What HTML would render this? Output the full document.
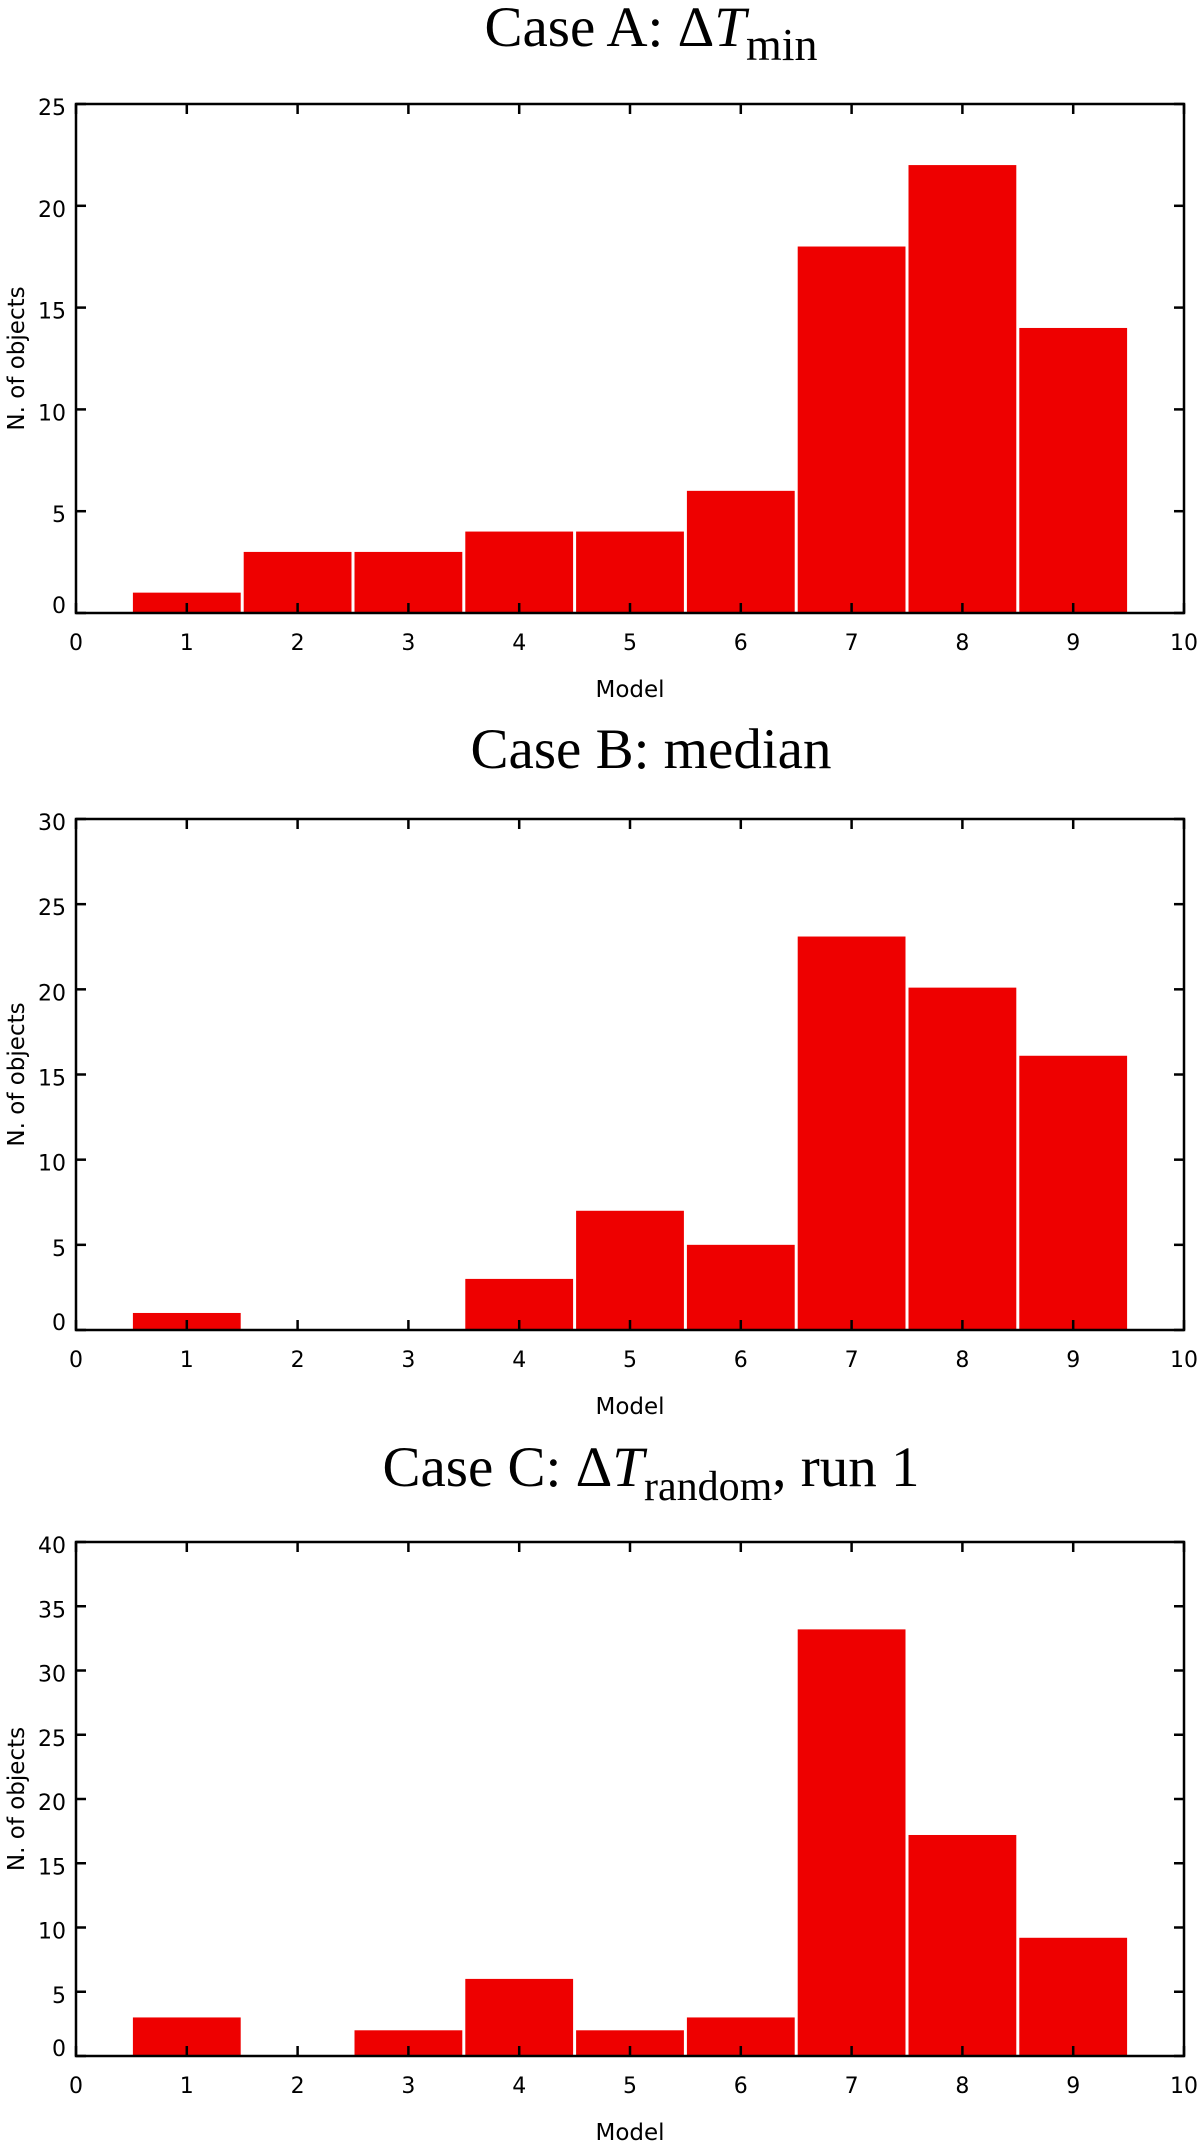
<!DOCTYPE html>
<html><head><meta charset="utf-8"><style>
html,body{margin:0;padding:0;background:#fff;}
svg{display:block;}
</style></head><body>
<svg id="chart" width="1200" height="2141" viewBox="0 0 1200 2141" xmlns="http://www.w3.org/2000/svg"></svg>
<script>
const models = [1,2,3,4,5,6,7,8,9];
const caseA = [1,3,3,4,4,6,18,22,14];
const caseB = [1,0,0,3,7,5,23.1,20.1,16.1];
const caseC = [3,0,2,6,2,3,33.2,17.2,9.2];
const xTicks = [0,1,2,3,4,5,6,7,8,9,10];
const yTicksA = [0,5,10,15,20,25];
const yTicksB = [0,5,10,15,20,25,30];
const yTicksC = [0,5,10,15,20,25,30,35,40];

const NS = 'http://www.w3.org/2000/svg';
const svg = document.getElementById('chart');
function mk(tag, attrs, parent){
  const e = document.createElementNS(NS, tag);
  for (const k in attrs) e.setAttribute(k, attrs[k]);
  (parent||svg).appendChild(e);
  return e;
}
const panels = [
  {key:'a', top:104, bottom:613, titleY:46, values:caseA, yTicks:yTicksA, title:'A'},
  {key:'b', top:819, bottom:1330, titleY:768, values:caseB, yTicks:yTicksB, title:'B'},
  {key:'c', top:1542, bottom:2056, titleY:1486, values:caseC, yTicks:yTicksC, title:'C'}
];
const L = 76, R = 1184;
panels.forEach(p => {
  const g = mk('g', {});
  
  
  const ymax = p.yTicks[p.yTicks.length-1];
  const xs = v => L + (v/10)*(R-L);
  const ys = v => p.bottom - (v/ymax)*(p.bottom-p.top);
  const t = mk('text', {x:651, y:p.titleY, 'text-anchor':'middle', 'font-family':'"Liberation Serif", serif', 'font-size':57, fill:'#000'}, g);
  
  
  if (p.title === 'A') {
    t.innerHTML = 'Case A: Δ<tspan font-style="italic">T</tspan><tspan font-size="46" dy="14">min</tspan>';
  } else if (p.title === 'B') {
    t.textContent = 'Case B: median';
  } else {
    t.innerHTML = 'Case C: Δ<tspan font-style="italic">T</tspan><tspan font-size="42" dy="14">random</tspan><tspan dy="-14">, run 1</tspan>';
  }
  p.values.forEach((v, i) => {
    const x0 = xs(models[i]-0.5)+1.5, x1 = xs(models[i]+0.5)-1.5;
    if (v <= 0) return;
    const r = mk('rect', {x:x0, y:ys(v), width:x1-x0, height:p.bottom-ys(v), fill:'#ee0000'}, g);
    
    
  });
  const f = mk('rect', {x:L, y:p.top, width:R-L, height:p.bottom-p.top, fill:'none', stroke:'#000', 'stroke-width':2.5}, g);
  
  
  xTicks.forEach(v => {
    const x = xs(v);
    mk('line', {x1:x, y1:p.top, x2:x, y2:p.top+10, stroke:'#000', 'stroke-width':2.5}, g);
    mk('line', {x1:x, y1:p.bottom, x2:x, y2:p.bottom-10, stroke:'#000', 'stroke-width':2.5}, g);
    const tl = mk('text', {x:x, y:p.bottom+37, 'text-anchor':'middle', 'font-family':'"DejaVu Sans", sans-serif', 'font-size':22, fill:'#000'}, g);
    
    
    tl.textContent = v;
  });
  p.yTicks.forEach(v => {
    const y = ys(v);
    mk('line', {x1:L, y1:y, x2:L+10, y2:y, stroke:'#000', 'stroke-width':2.5}, g);
    mk('line', {x1:R, y1:y, x2:R-10, y2:y, stroke:'#000', 'stroke-width':2.5}, g);
    const tl = mk('text', {x:66, y: v===0 ? y : y+11, 'text-anchor':'end', 'font-family':'"DejaVu Sans", sans-serif', 'font-size':22, fill:'#000'}, g);
    
    
    tl.textContent = v;
  });
  const xt = mk('text', {x:(L+R)/2, y:p.bottom+84, 'text-anchor':'middle', 'font-family':'"DejaVu Sans", sans-serif', 'font-size':23, fill:'#000'}, g);
  
  
  xt.textContent = 'Model';
  const cy = (p.top+p.bottom)/2;
  const yt = mk('text', {x:0, y:0, transform:'translate(24,'+cy+') rotate(-90)', 'text-anchor':'middle', 'font-family':'"DejaVu Sans", sans-serif', 'font-size':23, fill:'#000'}, g);
  
  
  yt.textContent = 'N. of objects';
});
</script>
</body></html>
